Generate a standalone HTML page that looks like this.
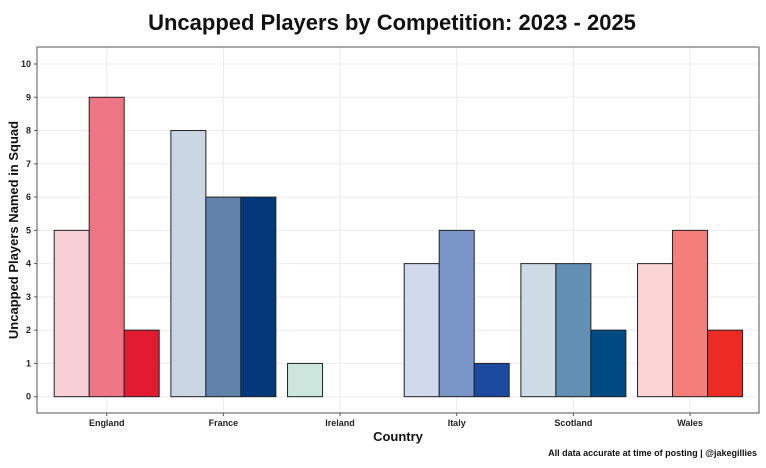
<!DOCTYPE html>
<html><head><meta charset="utf-8"><style>
body{margin:0;background:#fff;font-family:"Liberation Sans",sans-serif}
svg text{font-family:"Liberation Sans",sans-serif}
</style></head><body>
<svg width="766" height="463" xmlns="http://www.w3.org/2000/svg" id="chart">
<rect width="766" height="463" fill="#fff"/>
<text x="392" y="30" text-anchor="middle" font-size="22" font-weight="bold" fill="#111">Uncapped Players by Competition: 2023 - 2025</text>
<g id="grid"></g>
<g id="bars"></g>
<rect x="37" y="47" width="722" height="366" fill="none" stroke="#555" stroke-width="1"/>
<g id="axes"></g>
<text transform="translate(18,230) rotate(-90)" text-anchor="middle" font-size="13" font-weight="bold" fill="#111">Uncapped Players Named in Squad</text>
<text x="398" y="441" text-anchor="middle" font-size="13" font-weight="bold" fill="#111">Country</text>
<text x="757" y="456" text-anchor="end" font-size="9" font-weight="bold" fill="#111">All data accurate at time of posting | @jakegillies</text>
</svg>
<script>
const categories=["England","France","Ireland","Italy","Scotland","Wales"];
const series1=[5,8,1,4,4,4];
const series2=[9,6,null,5,4,5];
const series3=[2,6,null,1,2,2];
const yTicks=[0,1,2,3,4,5,6,7,8,9,10];
const colors=[["#f7cfd6","#ee7584","#e31b30"],["#cad6e4","#6283a9","#03387a"],["#cde6dd","#cde6dd","#cde6dd"],["#d1daed","#7a96c8","#1d4aa1"],["#ccdbe6","#6290b4","#004a84"],["#fbd5d6","#f47e7a","#ec2b25"]];
const NS="http://www.w3.org/2000/svg";
const y0=396.7,y10=64,x0=106.7,step=116.67,bw=35;
const yS=v=>y0+(y10-y0)*v/10;
const xS=i=>x0+i*step;
const grid=document.getElementById('grid'),bars=document.getElementById('bars'),axes=document.getElementById('axes');
function mk(tag,attrs,parent){const e=document.createElementNS(NS,tag);for(const k in attrs)e.setAttribute(k,attrs[k]);parent.appendChild(e);return e;}
yTicks.forEach(t=>{
 const l=mk('line',{x1:37,x2:759,y1:yS(t),y2:yS(t),stroke:'#ebebeb','stroke-width':1},grid);
 
 
 const tk=mk('line',{x1:34,x2:37,y1:yS(t),y2:yS(t),stroke:'#555'},axes);
 
 
 const tx=mk('text',{x:31,y:yS(t)+3,'text-anchor':'end','font-size':9,'font-weight':'bold',fill:'#222'},axes);
 tx.textContent=t;
 
 
});
categories.forEach((c,i)=>{
 const l=mk('line',{x1:xS(i),x2:xS(i),y1:47,y2:413,stroke:'#ebebeb'},grid);
 
 
 const tk=mk('line',{x1:xS(i),x2:xS(i),y1:413,y2:416,stroke:'#555'},axes);
 
 
 const tx=mk('text',{x:xS(i),y:426,'text-anchor':'middle','font-size':9,'font-weight':'bold',fill:'#222'},axes);
 tx.textContent=c;
 
 
 [series1,series2,series3].forEach((s,j)=>{
  const v=s[i]; if(v==null) return;
  const x=xS(i)+(j-1.5)*bw;
  const r=mk('rect',{x:x,y:yS(v),width:bw,height:yS(0)-yS(v),fill:colors[i][j],stroke:'#222','stroke-width':1},bars);
  
  
 });
});
</script>
</body></html>
